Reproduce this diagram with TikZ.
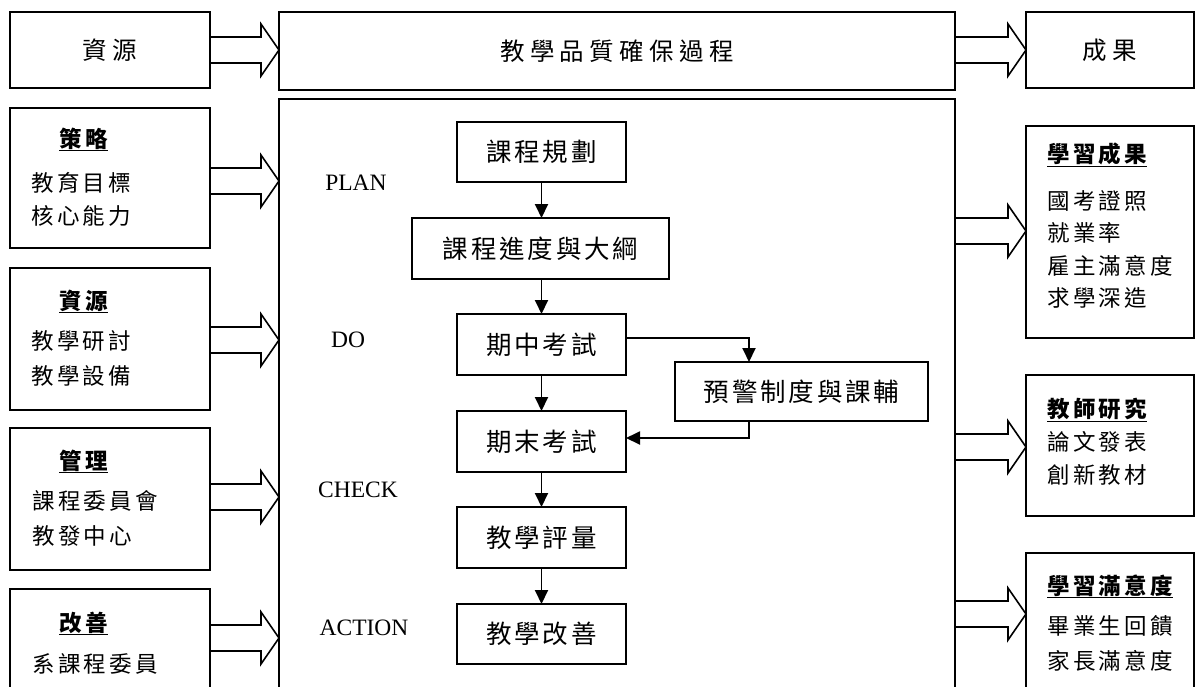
\documentclass[tikz,border=0pt]{standalone}
\usepackage{fontspec}
\setmainfont{Liberation Serif}
\newfontfamily\cjkh{Noto Sans CJK TC}[LetterSpace=22]
\newfontfamily\cjkc{Noto Sans CJK TC}[LetterSpace=11]
\newfontfamily\cjks{Noto Sans CJK TC}[LetterSpace=15]
\usetikzlibrary{arrows.meta,calc,backgrounds}
\tikzset{
  box/.style={draw, line width=1.9pt, inner sep=0pt, outer sep=0pt, anchor=north west},
  hdr/.style={box, font=\cjkh\fontsize{24.5}{28}\selectfont},
  flowbox/.style={draw, line width=1.9pt, inner sep=0pt, outer sep=0pt,
    minimum width=169pt, minimum height=61pt, font=\cjkc\fontsize{25.5}{28}\selectfont},
  side/.style={anchor=base west, inner sep=0pt, font=\cjks\fontsize{22.5}{26}\selectfont},
  sidetitle/.style={anchor=base west, inner sep=0pt, font=\cjks\bfseries\fontsize{22.5}{26}\selectfont},
  phase/.style={inner sep=0pt, font=\fontsize{23.5}{26}\selectfont},
  arr/.style={line width=1.9pt, -{Triangle[length=14pt,width=13pt]}},
  blk/.style={line width=1.6pt, fill=white, line join=miter},
}
\newcommand\blkarrow[3]{%
  \coordinate (bS) at (#1.east |- 0,#3);
  \coordinate (bT) at (#2.west |- 0,#3);
  \draw[blk] ($(bS)+(0,-13)$) -- ($(bT)+(-18,-13)$) -- ($(bT)+(-18,-26)$) -- (bT)
    -- ($(bT)+(-18,26)$) -- ($(bT)+(-18,13)$) -- ($(bS)+(0,13)$);}
\begin{document}
\begin{tikzpicture}[x=1pt,y=-1pt]
\useasboundingbox (0,0) rectangle (1196,686);
\clip (0,0) rectangle (1196,686);

% header row
\node[hdr, minimum width=200pt, minimum height=76pt] (Lhead) at (10,12) {資源};
\node[hdr, minimum width=676pt, minimum height=78pt] (Chead) at (279,12) {教學品質確保過程};
\node[hdr, minimum width=168pt, minimum height=76pt] (Rhead) at (1026,12) {成果};

% left boxes
\node[box, minimum width=200pt, minimum height=140pt] (L1) at (10,108) {};
\node[box, minimum width=200pt, minimum height=142pt] (L2) at (10,268) {};
\node[box, minimum width=200pt, minimum height=142pt] (L3) at (10,428) {};
\node[box, minimum width=200pt, minimum height=130pt] (L4) at (10,589) {};

% central box
\node[box, minimum width=676pt, minimum height=620pt] (C) at (279,99) {};

% right boxes
\node[box, minimum width=168pt, minimum height=212pt] (R1) at (1026,126) {};
\node[box, minimum width=168pt, minimum height=141pt] (R2) at (1026,375) {};
\node[box, minimum width=168pt, minimum height=150pt] (R3) at (1026,553) {};

% left texts
\node[sidetitle] (t1) at (59,147) {\underline{策略}};
\node[side] (t1a) at (31,191) {教育目標};
\node[side] (t1b) at (31,224) {核心能力};
\node[sidetitle] (t2) at (59,309) {\underline{資源}};
\node[side] (t2a) at (31,349) {教學研討};
\node[side] (t2b) at (31,384) {教學設備};
\node[sidetitle] (t3) at (59,469) {\underline{管理}};
\node[side] (t3a) at (32,509) {課程委員會};
\node[side] (t3b) at (32,544) {教發中心};
\node[sidetitle] (t4) at (59,631) {\underline{改善}};
\node[side] (t4a) at (32,672) {系課程委員};

% right texts
\node[sidetitle] (r1) at (1047,162) {\underline{學習成果}};
\node[side] (r1a) at (1047,209) {國考證照};
\node[side] (r1b) at (1047,241) {就業率};
\node[side] (r1c) at (1047,274) {雇主滿意度};
\node[side] (r1d) at (1047,306) {求學深造};
\node[sidetitle] (r2) at (1047,417) {\underline{教師研究}};
\node[side] (r2a) at (1047,450) {論文發表};
\node[side] (r2b) at (1047,483) {創新教材};
\node[sidetitle] (r3) at (1047,594) {\underline{學習滿意度}};
\node[side] (r3a) at (1047,634) {畢業生回饋};
\node[side] (r3b) at (1047,669) {家長滿意度};

% phase labels
\node[phase] (pPlan) at (356,183) {PLAN};
\node[phase] (pDo) at (348,340) {DO};
\node[phase] (pCheck) at (358,490) {CHECK};
\node[phase] (pAction) at (364,628) {ACTION};

% flow
\node[flowbox, minimum height=60pt] (f1) at (541.5,152) {課程規劃};
\node[flowbox, minimum width=257pt] (f2) at (540.5,248.5) {課程進度與大綱};
\node[flowbox] (f3) at (541.5,344.5) {期中考試};
\node[flowbox] (f4) at (541.5,441.5) {期末考試};
\node[flowbox] (f5) at (541.5,537.5) {教學評量};
\node[flowbox, minimum height=60pt] (f6) at (541.5,634) {教學改善};
\node[flowbox, minimum width=253pt, minimum height=59pt] (w) at (801.5,391.5) {預警制度與課輔};

\draw[arr] (f1.south) -- (f1.south |- f2.north);
\draw[arr] (f1.south |- f2.south) -- (f3.north);
\draw[arr] (f3.south) -- (f4.north);
\draw[arr] (f4.south) -- (f5.north);
\draw[arr] (f5.south) -- (f6.north);
\coordinate (wtop) at ($(w.north west)+(74,0)$);
\coordinate (wbot) at ($(w.south west)+(74,0)$);
\draw[arr] ($(f3.east)+(0,-6.5)$) -| (wtop);
\draw[arr] (wbot) |- ($(f4.east)+(0,-3.5)$);

% block arrows (behind boxes)
\begin{scope}[on background layer]
\fill[white] (0,0) rectangle (1196,686);
\blkarrow{Lhead}{Chead}{50}
\blkarrow{L1}{C}{181}
\blkarrow{L2}{C}{340}
\blkarrow{L3}{C}{497}
\blkarrow{L4}{C}{638}
\blkarrow{Chead}{Rhead}{50}
\blkarrow{C}{R1}{231}
\blkarrow{C}{R2}{447}
\blkarrow{C}{R3}{614}
\end{scope}
\end{tikzpicture}
\end{document}
